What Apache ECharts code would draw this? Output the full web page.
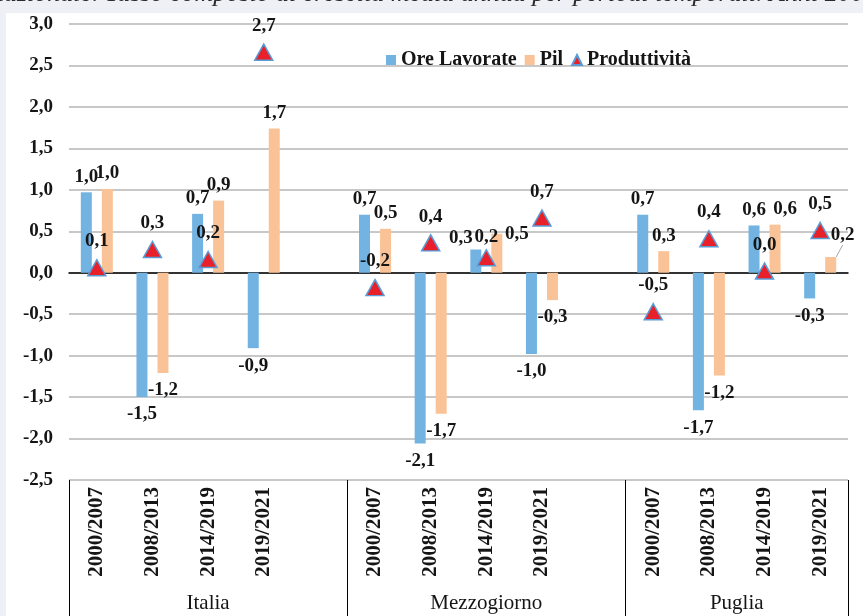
<!DOCTYPE html>
<html><head><meta charset="utf-8">
<script src="https://cdn.jsdelivr.net/npm/echarts@6/dist/echarts.min.js"></script>
<style>html,body{margin:0;padding:0;background:#eef0f6;}#c{width:863px;height:616px;}</style>
</head><body><div id="c"></div>
<script>
// ---- data ----
const groups = ['Italia', 'Mezzogiorno', 'Puglia'];
const periods = ['2000/2007', '2008/2013', '2014/2019', '2019/2021'];
const oreItalia = [0.97, -1.50, 0.71, -0.91];
const oreMezzogiorno = [0.70, -2.06, 0.28, -0.98];
const orePuglia = [0.70, -1.66, 0.57, -0.31];
const pilItalia = [1.01, -1.21, 0.87, 1.74];
const pilMezzogiorno = [0.53, -1.70, 0.47, -0.33];
const pilPuglia = [0.26, -1.24, 0.58, 0.19];
const prodItalia = [0.06, 0.28, 0.16, 2.66];
const prodMezzogiorno = [-0.18, 0.36, 0.18, 0.66];
const prodPuglia = [-0.47, 0.41, 0.02, 0.51];
const yTickMin = -2.5, yTickMax = 3.0, yTickStep = 0.5;
const titleText = 'nazionale. Tasso composto di crescita media annua per periodi temporali. Anni 2000-2021';

// ---- build category slots (a blank slot after each group except the last) ----
const categories = [];
const groupStarts = [];
const groupSizes = [];
groups.forEach((g, gi) => {
  groupStarts.push(categories.length);
  periods.forEach(p => categories.push(p));
  if (gi < groups.length - 1) categories.push('');
  groupSizes.push(categories.length - groupStarts[gi]);
});
function concatWithGaps(arrs) {
  const out = [];
  arrs.forEach((a, i) => { a.forEach(v => out.push(v)); if (i < arrs.length - 1) out.push(null); });
  return out;
}
const oreData = concatWithGaps([oreItalia, oreMezzogiorno, orePuglia]);
const pilData = concatWithGaps([pilItalia, pilMezzogiorno, pilPuglia]);
const prodData = concatWithGaps([prodItalia, prodMezzogiorno, prodPuglia]);

// label placement tweaks (style only), keyed by slot index
const oreTweak = { 7: [-15, 4] };
const pilTweak = { 7: [20, 16], 12: [10, 0], 13: [12, -6] };
const prodTweak = { 7: [0, 5] };

const FONT = 'Liberation Serif';
const TXT = '#151515';
const fmt = v => v.toFixed(1).replace('.', ',');

function barItems(arr, leaderIdx) {
  return arr.map((v, i) => {
    if (v === null) return null;
    const item = {
      value: v,
      label: v >= 0 ? { position: 'top', distance: 6 } : { position: 'bottom', distance: 8 }
    };
    if (i === leaderIdx) item.labelLine = { show: true, lineStyle: { color: '#a6a6a6', width: 1 } };
    return item;
  });
}
function layoutFrom(tweak) {
  return function (p) {
    const t = tweak[p.dataIndex];
    if (!t) return {};
    return { dx: t[0], dy: t[1] };
  };
}
const labelBase = {
  show: true, color: TXT, fontFamily: FONT, fontWeight: 'bold', fontSize: 19,
  formatter: p => fmt(p.value)
};

const centers = groups.map((g, i) => groupStarts[i] + groupSizes[i] / 2);

const chart = echarts.init(document.getElementById('c'), null, { renderer: 'canvas' });
chart.setOption({
  backgroundColor: 'transparent',
  animation: false,
  graphic: [
    { type: 'text', z: -2, left: -9, top: -19,
      style: { text: titleText, font: 'italic 26px "Liberation Serif"', fill: '#2a2a2a' } },
    { type: 'rect', z: -1, shape: { x: 6, y: 13, width: 857, height: 603 }, style: { fill: '#ffffff' } }
  ],
  legend: {
    left: 381, top: 45, itemWidth: 10, itemHeight: 10, itemGap: 8,
    textStyle: { color: TXT, fontFamily: FONT, fontWeight: 'bold', fontSize: 20 },
    data: [
      { name: 'Ore Lavorate', icon: 'rect' },
      { name: 'Pil', icon: 'rect' },
      { name: 'Produttività', icon: 'triangle' }
    ]
  },
  grid: [
    { left: 69, right: 15, top: 24, bottom: 136 },
    { left: 69, right: 15, top: 480, bottom: 0 }
  ],
  xAxis: [
    { gridIndex: 0, type: 'category', data: categories,
      axisLine: { onZero: true, lineStyle: { color: '#000', width: 1.5 } },
      axisTick: { show: false }, axisLabel: { show: false }, splitLine: { show: false } },
    { gridIndex: 0, type: 'category', data: categories, position: 'bottom',
      axisLine: { show: false, onZero: false }, axisTick: { show: false }, splitLine: { show: false },
      axisLabel: { rotate: 90, interval: 0, margin: 7, color: TXT, fontFamily: FONT, fontWeight: 'bold', fontSize: 21 } },
    { gridIndex: 1, type: 'category', data: categories,
      axisLine: { show: false }, axisTick: { show: false }, axisLabel: { show: false },
      splitLine: { show: true, interval: (idx) => groupStarts.indexOf(idx) >= 0,
        lineStyle: { color: '#000', width: 1 } } },
    { gridIndex: 1, type: 'value', min: 0, max: categories.length, interval: 0.5, position: 'bottom',
      axisLine: { show: false }, axisTick: { show: false }, splitLine: { show: false },
      axisLabel: { inside: true, margin: 2, color: TXT, fontFamily: FONT, fontWeight: 'normal', fontSize: 21,
        showMinLabel: true, showMaxLabel: true,
        formatter: v => { const k = centers.findIndex(c => Math.abs(c - v) < 1e-6); return k >= 0 ? groups[k] : ''; } } }
  ],
  yAxis: [
    { gridIndex: 0, type: 'value', min: yTickMin, max: yTickMax, interval: yTickStep,
      axisLine: { show: false }, axisTick: { show: false },
      splitLine: { lineStyle: { color: '#c8c8c8', width: 2 } },
      axisLabel: { margin: 16, color: TXT, fontFamily: FONT, fontWeight: 'bold', fontSize: 19,
        formatter: v => fmt(v) } },
    { gridIndex: 1, type: 'value', show: false }
  ],
  series: [
    { name: 'Ore Lavorate', type: 'bar', xAxisIndex: 0, yAxisIndex: 0,
      barWidth: 11, barGap: '91%',
      itemStyle: { color: '#72b3e2' },
      label: labelBase, labelLayout: layoutFrom(oreTweak),
      data: barItems(oreData, -1) },
    { name: 'Pil', type: 'bar', xAxisIndex: 0, yAxisIndex: 0,
      barWidth: 11, barGap: '91%',
      itemStyle: { color: '#f9c397' },
      label: labelBase, labelLayout: layoutFrom(pilTweak),
      data: barItems(pilData, 13) },
    { name: 'Produttività', type: 'scatter', xAxisIndex: 0, yAxisIndex: 0,
      symbol: 'triangle', symbolSize: [18, 16],
      itemStyle: { color: '#e8202a', borderColor: '#5b9bd5', borderWidth: 1.5, opacity: 1 },
      label: Object.assign({}, labelBase, { position: 'top', distance: 8 }),
      labelLayout: layoutFrom(prodTweak),
      data: prodData }
  ]
});
</script></body></html>
